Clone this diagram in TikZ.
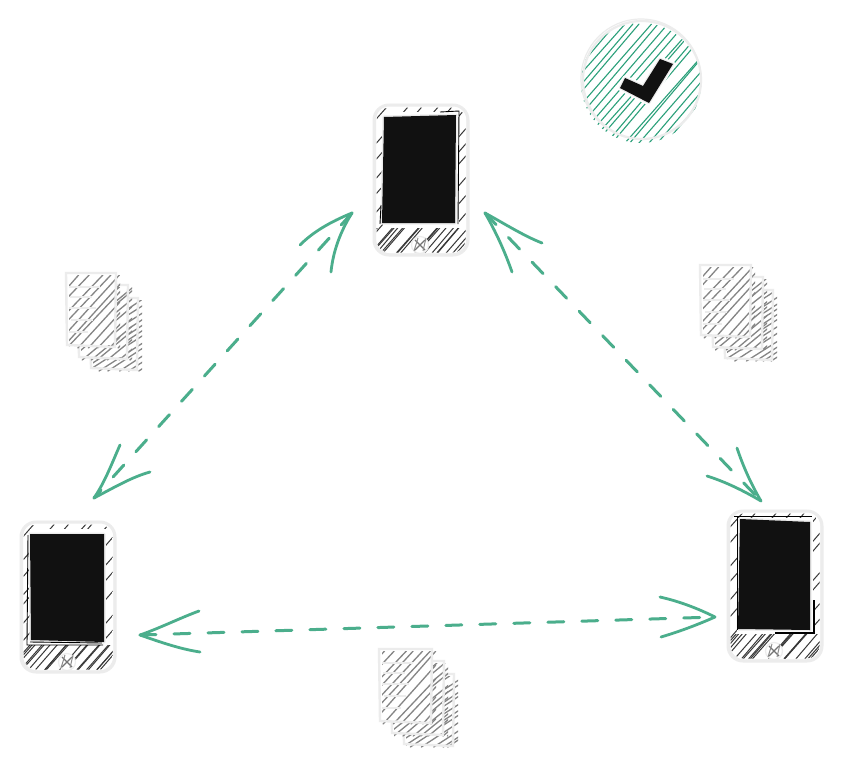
\documentclass[tikz,border=0pt]{standalone}
\usetikzlibrary{calc}
\definecolor{flowgreen}{HTML}{4BAE8C}
\definecolor{halogray}{HTML}{ECECEC}
\definecolor{inkblack}{HTML}{111111}
\definecolor{badgegreen}{HTML}{2BA07A}
\tikzset{
  flowline/.style={flowgreen,line width=3pt,line cap=round,dash pattern=on 16pt off 18pt},
  barb/.style={flowgreen,line width=2.8pt,line cap=round,line join=round},
  shell/.style={halogray,line width=3pt,rounded corners=15pt},
  phonehatch/.style={black!78,line width=1pt,line cap=round},
  dochatch/.style={black!48,line width=1.3pt,line cap=round},
  badgehatch/.style={badgegreen,line width=1.1pt,line cap=round},
  textbar/.style={halogray,line width=2.6pt},
  sketchline/.style={black,line width=.9pt}
}
% hatch lines over a box: x1 y1 x2 y2 spacing style
\newcommand\hatchlines[6]{%
  \pgfmathsetmacro\hdx{(#4-#2)/1.15}%
  \pgfmathsetmacro\hnn{int((#3-#1+\hdx)/#5)}%
  \foreach \hi in {0,...,\hnn}{%
    \pgfmathsetmacro\hcc{#1-\hdx+\hi*#5+rand*#5*0.3}%
    \pgfmathsetmacro\hee{\hcc+\hdx+rand*3}%
    \draw[#6] (\hcc,#4) -- (\hee,#2);%
  }%
}
% phone: x0 y0 then the four screen corners
\newcommand\phonebody[6]{%
  \pgfmathsetmacro\xa{#1}\pgfmathsetmacro\ya{#2}%
  \pgfmathsetmacro\xb{#1+94}\pgfmathsetmacro\yb{#2+150}%
  \fill[white,rounded corners=15pt] (\xa,\ya) rectangle (\xb,\yb);
  \begin{scope}
    \clip[rounded corners=13pt] ($(#1+2.5,#2+2.5)$) rectangle ($(#1+91.5,#2+147.5)$);
    \hatchlines{\xa}{\ya}{\xb}{\yb}{15.5}{phonehatch}
    \fill[white] ($(#1+9,#2+7)$) rectangle ($(#1+85,#2+123)$);
    \begin{scope}
      \clip ($(#1,#2+123)$) rectangle (\xb,\yb);
      \hatchlines{\xa}{\ya}{\xb}{\yb}{14}{phonehatch}
      \hatchlines{\xa}{\ya}{\xb}{\yb}{19}{phonehatch}
    \end{scope}
  \end{scope}
  \draw[shell] (\xa,\ya) rectangle (\xb,\yb);
  \draw[shell,line width=1.2pt] ($(#1+1.5,#2-.5)$) rectangle ($(#1+93,#2+149)$);
  % screen
  \draw[halogray,line width=3pt,line join=round] #3 -- #4 -- #5 -- #6 -- cycle;
  \fill[inkblack] #3 -- #4 -- #5 -- #6 -- cycle;
  % home button
  \fill[white] ($(#1+46,#2+140)$) circle (8.5);
  \draw[halogray,line width=1.2pt] ($(#1+46,#2+140)$) circle (8.5);
  \draw[black!55,line width=1.1pt] ($(#1+41,#2+135)$) -- ($(#1+51,#2+145)$);
  \draw[black!55,line width=1.1pt] ($(#1+51,#2+135)$) -- ($(#1+41,#2+145)$);
  \draw[black!45,line width=1pt] ($(#1+44,#2+133)$) -- ($(#1+40,#2+146)$);
  \draw[black!45,line width=1pt] ($(#1+52,#2+133)$) -- ($(#1+49,#2+146)$);
}
% one page: x0 y0 page width page height
\newcommand\docpage[4]{%
  \fill[white] (#1,#2) rectangle ($(#1+#3,#2+#4)$);
  \begin{scope}
    \clip ($(#1+1,#2+2)$) rectangle ($(#1+#3+5,#2+#4+3)$);
    \hatchlines{#1+2}{#2+2}{#1+#3+5}{#2+#4+3}{9.5}{dochatch}
  \end{scope}
  \draw[halogray,line width=2.4pt] ($(#1-2,#2)$) -- ($(#1+#3+1,#2)$) -- ($(#1+#3,#2+#4+2)$) -- ($(#1-1,#2+#4)$) -- cycle;
}
% stack of three pages, front page with its text bars
\newcommand\docstack[4]{%
  \docpage{#1+24}{#2+25}{#3-2}{#4-2}
  \docpage{#1+12}{#2+12}{#3}{#4}
  \docpage{#1}{#2}{#3}{#4}
  \draw[textbar] ($(#1+1,#2+14)$) -- ($(#1+32,#2+14)$);
  \draw[textbar] ($(#1+2,#2+24)$) -- ($(#1+24,#2+24)$);
  \draw[textbar] ($(#1+1,#2+35)$) -- ($(#1+28,#2+35)$);
  \draw[textbar] ($(#1+3,#2+47)$) -- ($(#1+25,#2+47)$);
  \draw[textbar] ($(#1+1,#2+59)$) -- ($(#1+20,#2+59)$);
}
\begin{document}
\begin{tikzpicture}[x=1pt,y=-1pt]
\pgfmathsetseed{17}
\useasboundingbox (0,0) rectangle (841,766);
\fill[white] (0,0) rectangle (841,766);

% check badge
\coordinate (badge) at (642,80);
\begin{scope}
  \clip (641,83) circle (60);
  \hatchlines{582}{24}{702}{144}{8.5}{badgehatch}
\end{scope}
\draw[halogray,line width=2.2pt] (badge) circle (59);
\draw[halogray,line width=1.2pt] (641,79) circle (60);
\path[draw=white,line width=5pt,line join=round]
  (625,78) -- (643,86) -- (660,59) -- (673,64) -- (649,103) -- (620,88) -- cycle;
\path[draw=halogray,line width=2.4pt,line join=round]
  (625,78) -- (643,86) -- (660,59) -- (673,64) -- (649,103) -- (620,88) -- cycle;
\fill[inkblack] (625,78) -- (643,86) -- (660,59) -- (673,64) -- (649,103) -- (620,88) -- cycle;

% phones
\phonebody{374}{105}{(384,117)}{(456,115)}{(455,223)}{(382,223)}
\phonebody{21}{522}{(30,534)}{(104,534)}{(104,642)}{(31,640)}
\phonebody{728}{511}{(740,519)}{(810,522)}{(810,630)}{(738,629)}
\draw[sketchline] (440,112) -- (459,111) -- (458,224);
\draw[sketchline] (381,205) -- (380,224);
\draw[sketchline] (28,535) -- (27,645) -- (103,645);
\draw[sketchline] (30,642) -- (102,643);
\draw[sketchline] (734,516) -- (812,516);
\draw[sketchline] (737,517) -- (737,630);
\draw[sketchline,line width=1.4pt] (814,600) -- (814,633) -- (775,633);

% documents
\docstack{68}{273}{47}{72}
\docstack{702}{265}{48}{70}
\docstack{381}{649}{50}{72}

% connector ends
\coordinate (tl) at (352,213);
\coordinate (bl) at (94,498);
\coordinate (tr) at (485,213);
\coordinate (br) at (761,501);
\coordinate (lm) at (140,635);
\coordinate (rm) at (715,617);

\draw[flowline] (tl) -- (bl);
\draw[barb] (tl) .. controls (330,222) and (313,232) .. (300,245);
\draw[barb] (tl) .. controls (340,232) and (333,252) .. (331,272);
\draw[barb] (bl) .. controls (105,482) and (112,463) .. (120,445);
\draw[barb] (bl) .. controls (115,487) and (132,477) .. (150,472);

\draw[flowline] (tr) -- (br);
\draw[barb] (tr) .. controls (505,224) and (524,236) .. (542,243);
\draw[barb] (tr) .. controls (496,232) and (505,252) .. (512,272);
\draw[barb] (br) .. controls (751,484) and (743,466) .. (737,448);
\draw[barb] (br) .. controls (744,491) and (726,482) .. (707,476);

\draw[flowline] (lm) -- (rm);
\draw[barb] (lm) .. controls (160,628) and (180,618) .. (199,611);
\draw[barb] (lm) .. controls (160,642) and (180,649) .. (200,652);
\draw[barb] (rm) .. controls (697,608) and (678,601) .. (660,597);
\draw[barb] (rm) .. controls (697,625) and (678,632) .. (661,637);
\end{tikzpicture}
\end{document}
